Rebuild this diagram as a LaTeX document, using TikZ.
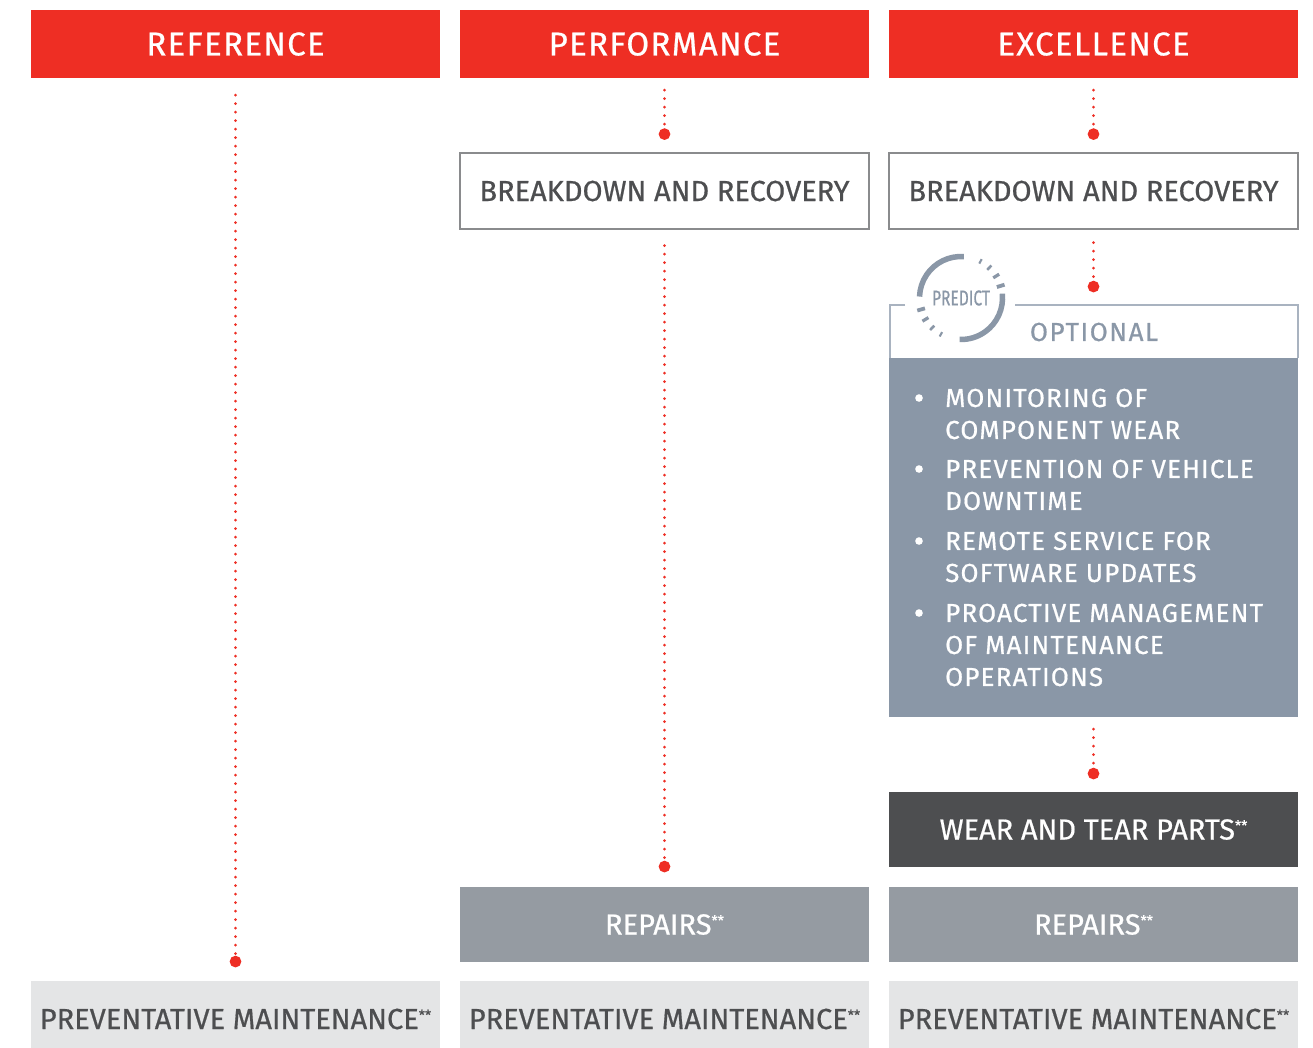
\documentclass[tikz,border=0pt]{standalone}
\usepackage{fontspec}
\setmainfont{Fira Sans}[FakeBold=0.6]
\usetikzlibrary{arrows.meta,calc}
\definecolor{hred}{HTML}{EE2E24}
\definecolor{dtext}{HTML}{4D4E50}
\definecolor{pmbg}{HTML}{E4E5E6}
\definecolor{repbg}{HTML}{959BA2}
\definecolor{wtbg}{HTML}{4D4E50}
\definecolor{optgray}{HTML}{8A97A7}
\definecolor{optline}{HTML}{A9B3C0}
\definecolor{brline}{HTML}{8A8B8D}
\newcommand{\stars}{\raisebox{9pt}{\fontsize{14}{14}\selectfont **}}
\begin{document}
\begin{tikzpicture}[x=1pt,y=-1pt,
  colbox/.style={minimum width=409pt, inner sep=0pt, text depth=0pt},
  hdr/.style={colbox, fill=hred, text=white, minimum height=68pt,
    font=\fontsize{33}{33}\selectfont\addfontfeatures{LetterSpace=4}, text height=22.8pt},
  lbl/.style={colbox, font=\fontsize{29}{29}\selectfont, text height=20pt},
  brbox/.style={lbl, draw=brline, line width=1.3pt, text=dtext, minimum height=76pt},
  pmbox/.style={lbl, fill=pmbg, text=dtext, minimum height=76pt},
  repbox/.style={lbl, fill=repbg, text=white, minimum height=75pt},
  wtbox/.style={lbl, fill=wtbg, text=white, minimum height=75pt},
  bline/.style={anchor=west, inner sep=0pt, text=white, font=\fontsize{26}{26}\selectfont\addfontfeatures{LetterSpace=4.5}, text height=17.9pt, text depth=0pt},
  dots/.style={draw=hred, line width=3pt, line cap=round, dash pattern=on 0pt off 8.5pt, -{Circle[length=11.5pt]}},
  icon/.style={draw=optgray}
]
\clip (0,0) rectangle (1313,1047);
\fill[white] (0,0) rectangle (1313,1047);

% headers
\node[hdr] (h1) at (235.5,44) {REFERENCE};
\node[hdr] (h2) at (664.5,44) {PERFORMANCE};
\node[hdr] (h3) at (1093.5,44) {EXCELLENCE};

% breakdown boxes
\node[brbox] (b2) at (664.5,191) {BREAKDOWN AND RECOVERY};
\node[brbox] (b3) at (1093.5,191) {BREAKDOWN AND RECOVERY};

% optional block
\node[colbox, minimum height=412pt] (opt) at (1093.5,511) {};
\fill[optgray] (889,358) rectangle (1298,717);
\draw[optline, line width=1.3pt] (1015,305) -- (1298,305) -- (1298,358);
\draw[optline, line width=1.3pt] (905,305) -- (890,305) -- (890,358);
\node[inner sep=0pt, text=optgray, font=\fontsize{26}{26}\selectfont\addfontfeatures{LetterSpace=6}, text height=17.9pt, text depth=0pt] (optl) at (1094,332) {OPTIONAL};

% predict icon
\coordinate (pc) at (961,298);
\draw[icon, line width=5.5pt] ($(pc)+(86:41.5pt)$) arc[start angle=86, end angle=178, radius=41.5pt];
\draw[icon, line width=5.5pt] ($(pc)+(6:41.5pt)$) arc[start angle=6, end angle=-92, radius=41.5pt];
\foreach \a/\l/\w in {196/8/3.8, 211/7/3.2, 226/6/2.6, 241/5/2.1}
  \draw[icon, line width=\w pt] ($(pc)+(\a:41.5pt-\l pt/2)$) -- ($(pc)+(\a:41.5pt+\l pt/2)$);
\foreach \a/\l/\w in {17/8/3.8, 32/7/3.2, 47/6/2.6, 62/5/2.1}
  \draw[icon, line width=\w pt] ($(pc)+(\a:41.5pt-\l pt/2)$) -- ($(pc)+(\a:41.5pt+\l pt/2)$);
\node[inner sep=0pt, text=optgray, font=\fontsize{20}{20}\selectfont] (pred) at (pc) {\resizebox{58pt}{15pt}{PREDICT}};

% bullet list
\foreach \y/\t in {398/MONITORING OF, 430/COMPONENT WEAR, 469/PREVENTION OF VEHICLE, 501/DOWNTIME,
  541/REMOTE SERVICE FOR, 573/SOFTWARE UPDATES, 613/PROACTIVE MANAGEMENT, 645/OF MAINTENANCE, 677/OPERATIONS}
  \node[bline] at (945,\y) {\t};
\foreach \y in {398,469,541,613}
  \fill[white] (919,\y) circle[radius=3.8pt];

% lower boxes
\node[wtbox] (w3) at (1093.5,829.5) {WEAR AND TEAR PARTS\stars};
\node[repbox] (r2) at (664.5,924.5) {REPAIRS\stars};
\node[repbox] (r3) at (1093.5,924.5) {REPAIRS\stars};
\node[pmbox] (p1) at (235.5,1019) {PREVENTATIVE MAINTENANCE\stars};
\node[pmbox] (p2) at (664.5,1019) {PREVENTATIVE MAINTENANCE\stars};
\node[pmbox] (p3) at (1093.5,1019) {PREVENTATIVE MAINTENANCE\stars};

% dotted connectors
\draw[dots, shorten <=17pt, shorten >=13.5pt] (h1.south) -- (p1.north);
\draw[dots, shorten <=12pt, shorten >=12.5pt] (h2.south) -- (b2.north);
\draw[dots, shorten <=16pt, shorten >=14.5pt] (b2.south) -- (r2.north);
\draw[dots, shorten <=12pt, shorten >=12.5pt] (h3.south) -- (b3.north);
\draw[dots, shorten <=13pt, shorten >=12.5pt] (b3.south) -- (opt.north);
\draw[dots, shorten <=12pt, shorten >=12.5pt] (opt.south) -- (w3.north);
\end{tikzpicture}
\end{document}
